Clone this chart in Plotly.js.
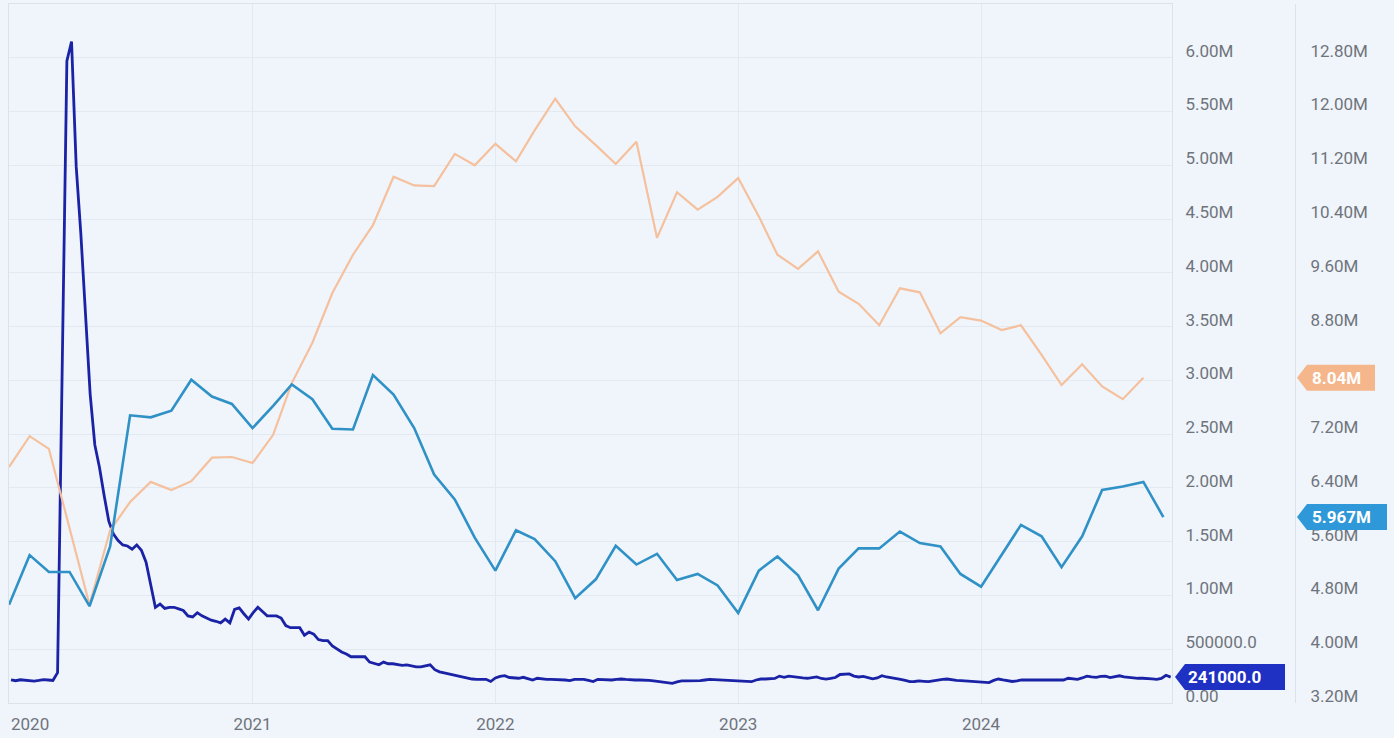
<!DOCTYPE html>
<html><head><meta charset="utf-8">
<script src="https://cdn.plot.ly/plotly-3.0.1.min.js"></script>
<style>html,body{margin:0;padding:0;background:#f0f5fb;} #chart{width:1394px;height:738px;}</style>
</head><body><div id="chart"></div>
<script>
// Weekly series (thousands), week ending Saturdays from 2020-01-04 (left axis)
const claimsStart = '2020-01-04';
const claimsK = [
 214,207,216,210,205,204,210,218,214,210,
 282,2920,5970,6150,4990,4360,3570,2870,2400,2190,
 1930,1690,1570,1510,1470,1460,1430,1470,1420,1310,
 1100,890,920,880,890,890,875,860,810,800,
 840,810,790,770,760,745,780,745,870,885,
 830,780,840,890,850,810,810,810,790,720,
 700,700,700,630,660,640,590,580,580,530,
 500,475,455,430,430,430,430,380,365,355,
 380,365,365,360,350,355,345,335,335,345,
 355,310,290,280,270,260,250,242,228,223,
 220,223,220,200,233,247,254,237,233,230,
 239,223,214,230,223,220,220,220,220,214,
 208,219,220,220,210,200,220,219,214,214,
 219,223,219,214,214,214,214,211,205,200,
 196,190,183,196,205,205,205,208,208,214,
 220,217,214,214,214,211,205,205,202,198,
 214,223,223,223,228,250,239,250,242,236,
 233,230,239,242,228,223,228,237,265,270,
 270,250,242,247,236,225,233,254,242,236,
 228,220,210,198,200,205,202,198,205,214,
 219,223,214,210,208,205,198,198,198,196,
 190,210,223,214,210,200,205,214,214,214,
 214,214,214,211,210,208,214,230,223,220,
 233,250,242,239,247,250,237,242,253,242,
 236,233,230,230,230,225,220,228,258,241
];
// Monthly series (millions), from 2020-01 (right axis)
const orangeM = [
 6.71,7.17,6.98,5.82,4.66,5.77,6.19,6.49,6.37,6.50,6.85,6.86,
 6.77,7.19,7.96,8.56,9.30,9.87,10.31,11.03,10.90,10.89,11.37,11.20,
 11.52,11.26,11.72,12.19,11.78,11.50,11.22,11.55,10.12,10.80,10.54,10.73,
 11.01,10.44,9.87,9.66,9.92,9.32,9.14,8.82,9.37,9.31,8.70,8.94,
 8.89,8.75,8.82,8.38,7.93,8.24,7.91,7.72,8.04
];
const lightBlueM = [
 4.66,5.40,5.15,5.15,4.64,5.53,7.48,7.45,7.55,8.01,7.76,7.65,
 7.29,7.62,7.94,7.72,7.28,7.27,8.08,7.79,7.29,6.60,6.23,5.66,
 5.17,5.77,5.64,5.31,4.76,5.04,5.54,5.26,5.42,5.03,5.12,4.95,
 4.54,5.17,5.38,5.10,4.58,5.20,5.50,5.50,5.75,5.58,5.53,5.12,
 4.93,5.40,5.85,5.68,5.22,5.68,6.37,6.42,6.49,5.967
];
const leftTickVals = [0,500000,1000000,1500000,2000000,2500000,3000000,3500000,4000000,4500000,5000000,5500000,6000000];
const leftTickText = ['0.00','500000.0','1.00M','1.50M','2.00M','2.50M','3.00M','3.50M','4.00M','4.50M','5.00M','5.50M','6.00M'];
const rightTickVals = [3.2e6,4.0e6,4.8e6,5.6e6,6.4e6,7.2e6,8.0e6,8.8e6,9.6e6,10.4e6,11.2e6,12.0e6,12.8e6];
const rightTickText = ['3.20M','4.00M','4.80M','5.60M','6.40M','7.20M','8.00M','8.80M','9.60M','10.40M','11.20M','12.00M','12.80M'];
const yearTickVals = ['2020-01-01','2021-01-01','2022-01-01','2023-01-01','2024-01-01'];
const yearTickText = ['2020','2021','2022','2023','2024'];

function weeklyDates(start, n){
  const d0 = new Date(start + 'T00:00:00Z'); const out = [];
  for(let i=0;i<n;i++){ const d = new Date(d0.getTime() + i*7*86400000); out.push(d.toISOString().slice(0,10)); }
  return out;
}
function monthlyDates(n){
  const out=[]; for(let i=0;i<n;i++){ out.push(new Date(Date.UTC(2020,i,1)).toISOString().slice(0,10)); } return out;
}

const C_DARK = '#1a22a6', C_DARK_TAG = '#1f31c2';
const C_LB = '#2f91c6', C_LB_TAG = '#2f98d8';
const C_OR = '#f5c09d', C_OR_TAG = '#f5b68c';

const claimsY = claimsK.map(v => v*1000);
const orY = orangeM.map(v => v*1e6);
const lbY = lightBlueM.map(v => v*1e6);

const traces = [
  {x: monthlyDates(orY.length), y: orY, yaxis:'y2', type:'scatter', mode:'lines', line:{color:C_OR, width:2.2}, hoverinfo:'skip'},
  {x: monthlyDates(lbY.length), y: lbY, yaxis:'y2', type:'scatter', mode:'lines', line:{color:C_LB, width:2.6}, hoverinfo:'skip'},
  {x: weeklyDates(claimsStart, claimsY.length), y: claimsY, yaxis:'y', type:'scatter', mode:'lines', line:{color:C_DARK, width:2.8}, hoverinfo:'skip'}
];

const W = 1394, ML = 9;
const plotW = W - ML;
const xEnd = (1172 - ML)/plotW;
const y2Pos = (1295 - ML)/plotW;
const tipLeft = (1175 - ML)/plotW;
const tipRight = (1297 - ML)/plotW;

function tagShape(xp, yref, yv, w, color){
  return {type:'path', xref:'paper', yref:yref, xsizemode:'pixel', ysizemode:'pixel',
    xanchor:xp, yanchor:yv, path:'M0,0 L10,13 L'+w+',13 L'+w+',-13 L10,-13 Z',
    fillcolor:color, line:{width:0}, layer:'above'};
}
function tagText(xp, yref, yv, txt, shift){
  return {xref:'paper', yref:yref, x:xp, y:yv, xanchor:'left', yanchor:'middle', xshift:shift,
    showarrow:false, text:txt, font:{family:'Roboto, sans-serif', size:17, color:'#ffffff', weight:700}};
}
const lastClaims = claimsY[claimsY.length-1];
const lastOr = orY[orY.length-1];
const lastLb = lbY[lbY.length-1];

const gridC = '#e3e9f1', lineC = '#dbe2ea';
const layout = {
  width: W, height: 738,
  margin:{l:ML, r:0, t:4, b:35},
  paper_bgcolor:'#f0f5fb', plot_bgcolor:'#f0f5fb',
  font:{family:'Roboto, sans-serif', size:17, color:'#6f747c'},
  showlegend:false,
  xaxis:{type:'date', range:['2020-01-01','2024-10-14'], domain:[0,xEnd],
    tickvals: yearTickVals.slice(1), ticktext: yearTickText.slice(1),
    showgrid:true, gridcolor:gridC, zeroline:false, showline:true, linecolor:lineC, mirror:true, ticks:'', ticklabelstandoff:6},
  yaxis:{range:[0,6.5e6], side:'right', tickvals:leftTickVals, ticktext:leftTickText,
    showgrid:true, gridcolor:gridC, zeroline:false, showline:true, linecolor:lineC, mirror:true, ticks:'',
    ticklabelshift:-7, ticklabelstandoff:9},
  yaxis2:{range:[3.2e6,13.6e6], overlaying:'y', side:'right', anchor:'free', position:y2Pos,
    tickvals:rightTickVals, ticktext:rightTickText, showgrid:false, zeroline:false, showline:true, linecolor:lineC, ticks:'',
    ticklabelshift:-7, ticklabelstandoff:11},
  shapes:[
    tagShape(tipLeft, 'y', lastClaims, 110, C_DARK_TAG),
    tagShape(tipRight, 'y2', lastLb, 90, C_LB_TAG),
    tagShape(tipRight, 'y2', lastOr, 78, C_OR_TAG)
  ],
  annotations:[
    {xref:'paper', yref:'paper', x:0, y:0, xanchor:'left', yanchor:'top', yshift:-9, showarrow:false,
     text:yearTickText[0], font:{family:'Roboto, sans-serif', size:17, color:'#6f747c'}},
    tagText(tipLeft, 'y', lastClaims, lastClaims.toFixed(1), 11),
    tagText(tipRight, 'y2', lastLb, (lastLb/1e6).toFixed(3)+'M', 13),
    tagText(tipRight, 'y2', lastOr, (lastOr/1e6).toFixed(2)+'M', 13)
  ]
};
Plotly.newPlot('chart', traces, layout, {displayModeBar:false, staticPlot:true});
</script>
</body></html>
